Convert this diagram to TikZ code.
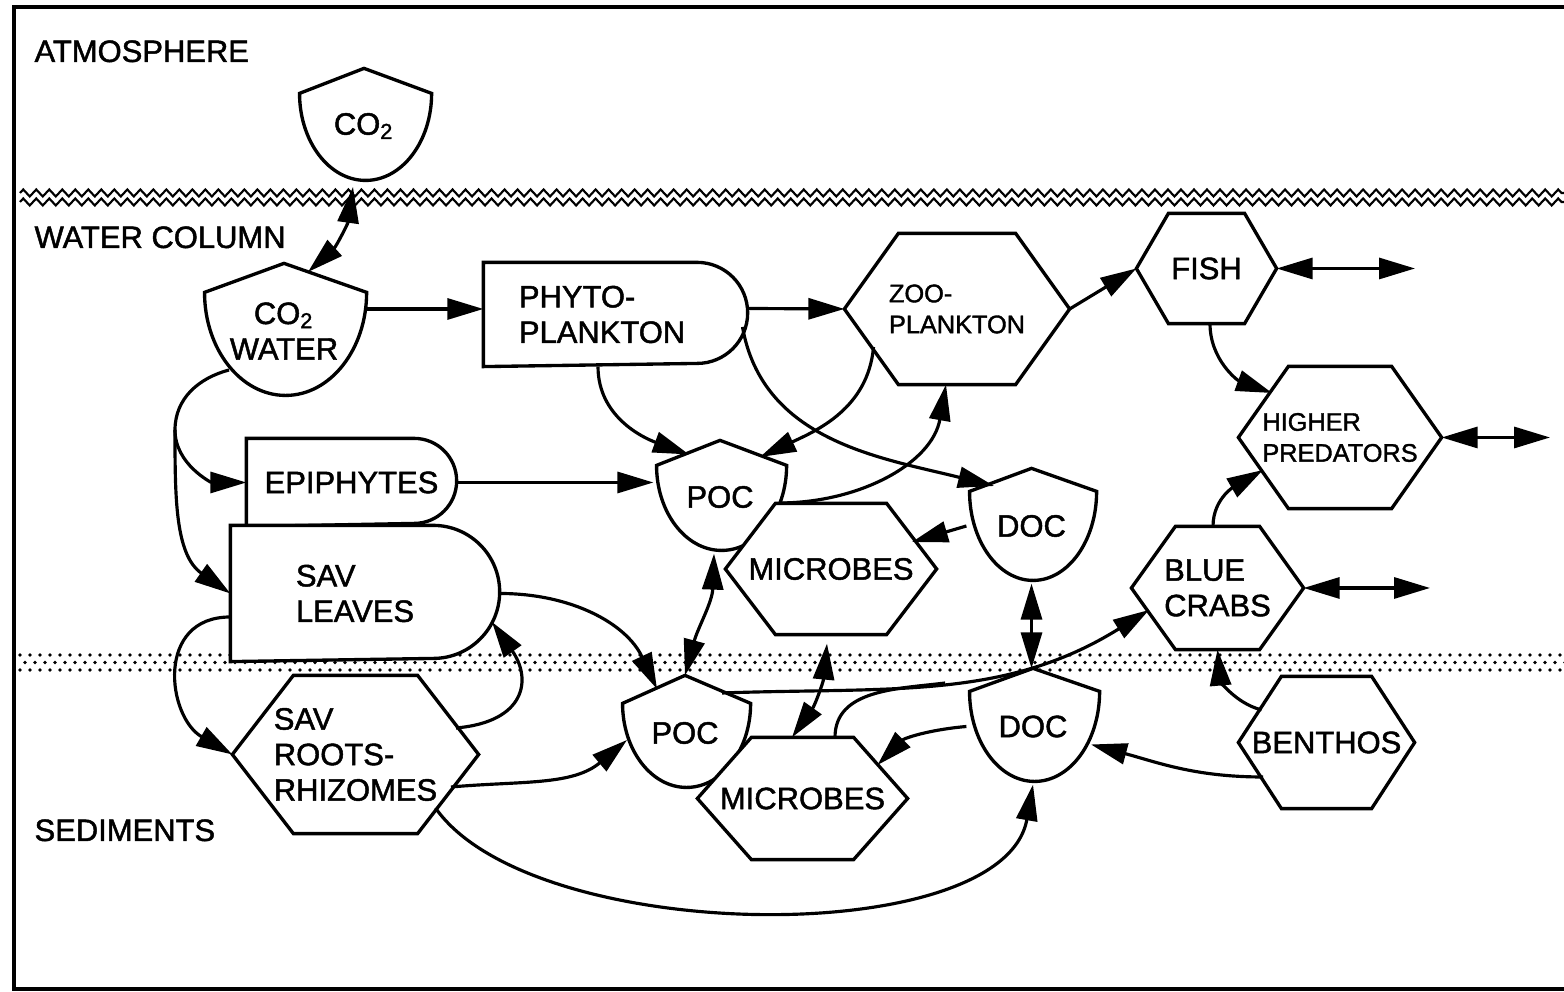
\documentclass[tikz,border=0pt]{standalone}
\usepackage{fontspec}
\setmainfont{Liberation Sans}[FakeBold=1.5]
\usetikzlibrary{arrows.meta}
\usetikzlibrary{decorations.pathmorphing}

\begin{document}
\begin{tikzpicture}[>={Triangle[length=3.6mm,width=2.1mm]},x=0.01cm,y=0.01cm,
	line width=0.9pt,font=\fontsize{8.8}{10.1}\selectfont,
	outline/.style={line width=0.95pt,fill=white},
	smalltext/.style={font=\fontsize{7.2}{8.8}\selectfont},
	region/.style={anchor=base west,inner sep=0pt},
	shield/.style n args={3}{minimum width=#1,minimum height=#2,inner sep=0pt,align=center,
		append after command={\pgfextra{\let\curnode=\tikzlastnode
			\draw[outline] (\curnode.north) -- ([yshift=-#3]\curnode.north east)
				arc[start angle=0,end angle=-180,x radius=#1/2,y radius=#2-#3] -- cycle;}}},
	hexa/.style n args={3}{minimum width=#1,minimum height=#2,inner sep=0pt,align=left,
		append after command={\pgfextra{\let\curnode=\tikzlastnode
			\draw[outline] (\curnode.west) -- ([xshift=#3]\curnode.north west)
				-- ([xshift=-#3]\curnode.north east) -- (\curnode.east)
				-- ([xshift=-#3]\curnode.south east) -- ([xshift=#3]\curnode.south west) -- cycle;}}},
	pill/.style 2 args={minimum width=#1,minimum height=#2,inner sep=0pt,align=left,
		append after command={\pgfextra{\let\curnode=\tikzlastnode
			\draw[outline] (\curnode.south west) -- (\curnode.north west)
				-- ([xshift=-#2/2]\curnode.north east)
				arc[start angle=90,end angle=-90,radius=#2/2] -- cycle;}}}]
	
	\useasboundingbox (0,0) rectangle (1564,992);
	\draw[line width=1.4pt] (1564,985) -- (14,985) -- (14,3) -- (1564,3);
	\foreach \y in {790,799}
		\draw[line width=0.6pt,decorate,decoration={zigzag,segment length=0.13cm,amplitude=0.035cm}] (20,\y) -- (1564,\y);
	\foreach \r in {0,1,2}
		\foreach \i in {0,...,154}
			\fill ({20+\i*10+mod(\r,2)*5},{337-\r*7.5}) circle (0.018cm);
	
	\node[region] (atm) at (33,930) {ATMOSPHERE};
	\node[region] (wat) at (33,744) {WATER COLUMN};
	\node[region] (sed) at (33,151) {SEDIMENTS};
	
	\node[shield={1.32cm}{1.12cm}{0.25cm}] (co2a) at (364,866) {CO\textsubscript{2}};
	\node[shield={1.62cm}{1.32cm}{0.29cm}] (co2w) at (284,661) {CO\textsubscript{2}\\WATER};
	\node[pill={2.61cm}{1.01cm},text width=1.93cm] (phyto) at (615.5,677.5) {PHYTO-\\PLANKTON};
	\node[hexa={2.22cm}{1.48cm}{0.54cm},smalltext] (zoo) at (957,683) {ZOO-\\PLANKTON};
	\node[pill={2.07cm}{0.85cm}] (epi) at (351.5,509.5) {EPIPHYTES};
	\node[pill={2.66cm}{1.33cm},text width=1.38cm] (savl) at (365,398.5) {SAV\\LEAVES};
	\node[hexa={2.43cm}{1.55cm}{0.61cm}] (savr) at (355.5,237.5) {SAV\\ROOTS-\\RHIZOMES};
	\node[shield={1.30cm}{1.10cm}{0.25cm}] (poc1) at (720,495) {POC};
	\node[hexa={2.08cm}{1.28cm}{0.50cm}] (mic1) at (831,423) {MICROBES};
	\node[shield={1.27cm}{1.12cm}{0.23cm}] (doc1) at (1031.5,466) {DOC};
	\node[shield={1.28cm}{1.12cm}{0.28cm}] (poc2) at (685,259) {POC};
	\node[hexa={2.07cm}{1.19cm}{0.54cm}] (mic2) at (802.5,193.5) {MICROBES};
	\node[shield={1.30cm}{1.13cm}{0.23cm}] (doc2) at (1033,265.5) {DOC};
	\node[hexa={1.37cm}{1.07cm}{0.32cm}] (fish) at (1206.5,723.5) {FISH};
	\node[hexa={2.00cm}{1.39cm}{0.50cm},smalltext] (pred) at (1340,554.5) {HIGHER\\PREDATORS};
	\node[hexa={1.69cm}{1.20cm}{0.44cm}] (crabs) at (1217.5,404) {BLUE\\CRABS};
	\node[hexa={1.73cm}{1.29cm}{0.43cm}] (benthos) at (1326.5,249.5) {BENTHOS};
	
	\coordinate (split) at (175,562);
	\coordinate (fishout) at (1415,723.5);
	\coordinate (predout) at (1550,554.5);
	\coordinate (crabsout) at (1430,404);
	
	\path[->]
	([shift={(24,59)}]co2w.center) edge[<->,bend right=20] ([shift={(-11,-61)}]co2a.center)
	([shift={(0,22)}]co2w.east) edge ([shift={(0,5.5)}]phyto.west)
	([shift={(0,6)}]phyto.east) edge (zoo.west)
	(zoo.east) edge (fish.west)
	(fish.east) edge[<->] (fishout)
	(pred.east) edge[<->] (predout)
	(crabs.east) edge[<->] (crabsout)
	([shift={(3.5,0)}]fish.south) edge[out=-90,in=160] ([shift={(-68,44.5)}]pred.center)
	([shift={(-4.5,0)}]crabs.north) edge[out=90,in=-150] ([shift={(-77,-32.5)}]pred.center)
	([shift={(-65,32.5)}]benthos.center) edge[out=165,in=-85] (crabs.south)
	([shift={(-63.5,-34.5)}]benthos.center) edge[out=180,in=-15] ([shift={(58,-18)}]doc2.center)
	(doc2.west) edge[out=185,in=45] ([shift={(75,33.5)}]mic2.center)
	(doc1.west) edge ([shift={(81,27)}]mic1.center)
	(doc1.south) edge[<->] (doc1.south |- doc2.north)
	([shift={(59,-6)}]poc1.center) edge[out=0,in=-100] ([shift={(-11,0)}]zoo.south)
	([shift={(-83.5,-38)}]zoo.center) edge[out=-95,in=25] ([shift={(40,40)}]poc1.center)
	([shift={(-17.5,0)}]phyto.south) edge[out=-90,in=160] ([shift={(-31,42.5)}]poc1.center)
	([shift={(127,-12.5)}]phyto.center) edge[out=-80,in=166] ([shift={(-37.5,40)}]doc1.center)
	(epi.east) edge (epi.east -| poc1.west)
	([shift={(0,-23.5)}]savl.west) edge[out=180,in=150,looseness=1.4] (savr.west)
	([shift={(100.5,26.5)}]savr.center) edge[out=5,in=-55,looseness=1.6] ([shift={(127,-28.5)}]savl.center)
	(savl.east) edge[out=0,in=115] ([shift={(-28,44)}]poc2.center)
	([shift={(95.5,-32.5)}]savr.center) edge[out=5,in=-140] ([shift={(-58,-7)}]poc2.center)
	([shift={(80,-53.5)}]savr.center) edge[out=-55,in=-100,looseness=0.72] (doc2.south)
	([shift={(-4,-9)}]mic1.south) edge[<->,bend left=15] ([shift={(-10.5,0)}]mic2.north)
	([shift={(-6,0)}]poc1.south) edge[<->,out=-92,in=75] (poc2.north);
	
	\draw ([shift={(-55,-39)}]co2w.center) to[out=195,in=90] (split);
	\path[->] (split) edge[out=-90,in=180] (epi.west)
		edge[out=-90,in=145] (savl.west);
	
	\draw[->] ([shift={(37,40)}]poc2.center) to[out=2,in=212] coordinate[pos=0.5] (join) ([shift={(-68.5,-22)}]crabs.center);
	\draw ([shift={(32.5,0)}]mic2.north) to[out=90,in=187] (join);
\end{tikzpicture}
\end{document}
